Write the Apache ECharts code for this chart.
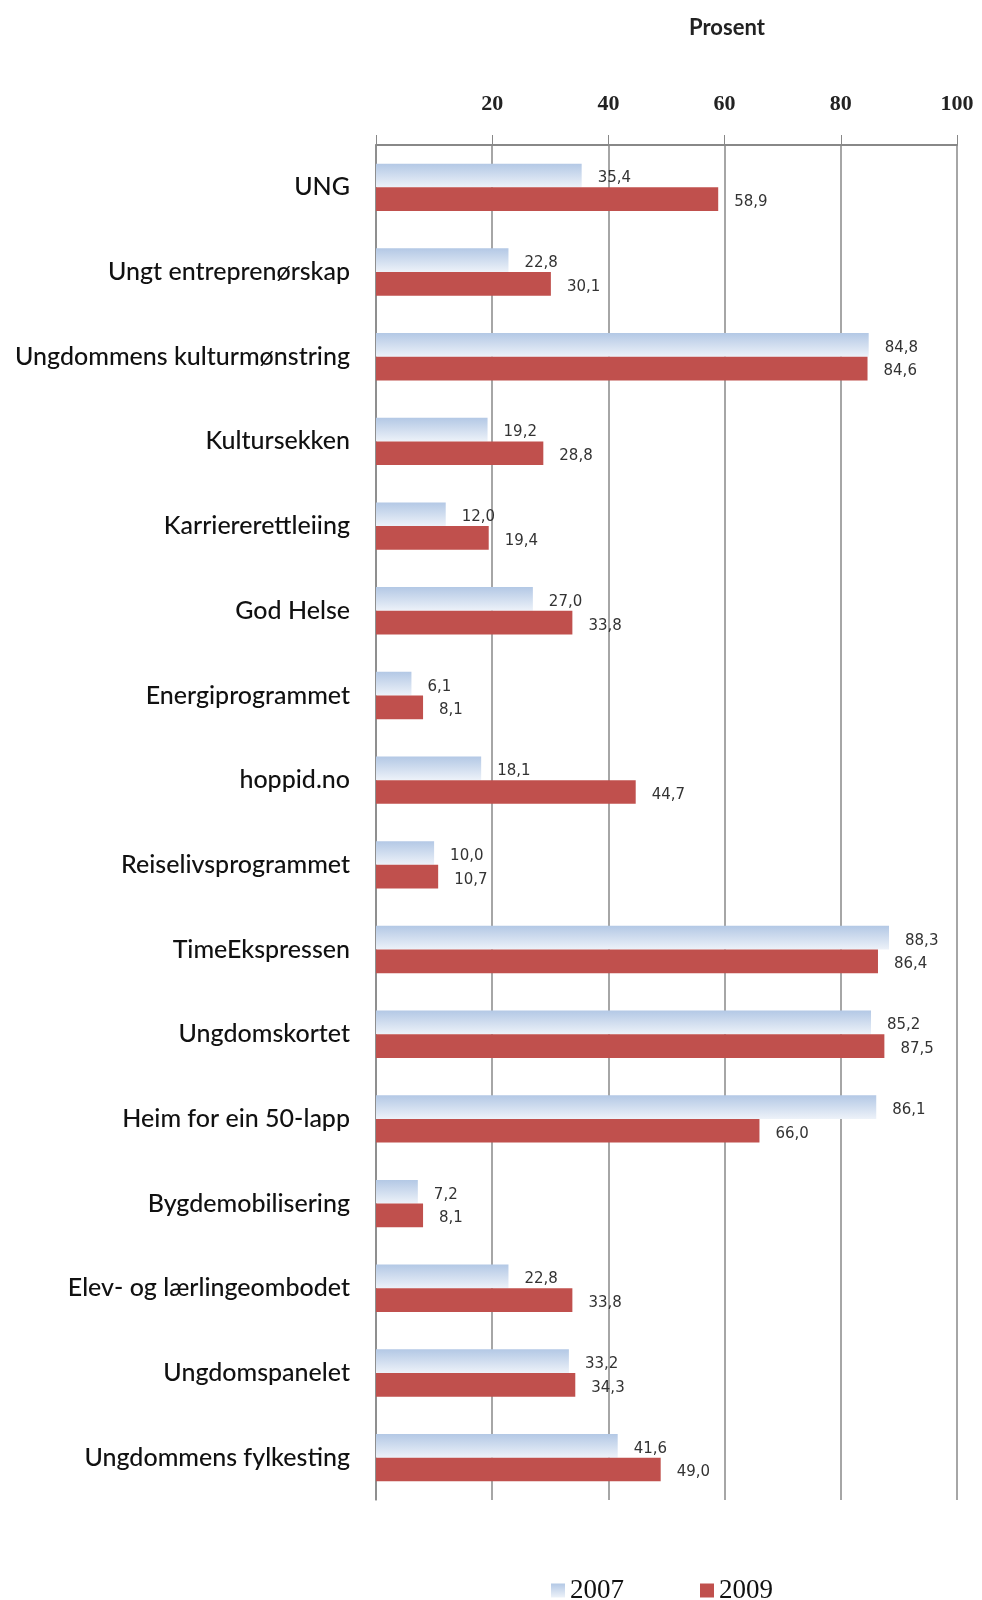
<!DOCTYPE html>
<html>
<head>
<meta charset="utf-8">
<script src="https://cdn.jsdelivr.net/npm/echarts@6/dist/echarts.min.js"></script>
<style>
  html, body { margin: 0; padding: 0; background: #fff; }
  #chart { width: 982px; height: 1600px; }
</style>
</head>
<body>
<div id="chart"></div>
<script>
var chart = echarts.init(document.getElementById('chart'));

// kategoriar og verdiar (prosent)
var categories = ['UNG', 'Ungt entreprenørskap', 'Ungdommens kulturmønstring', 'Kultursekken',
    'Karriererettleiing', 'God Helse', 'Energiprogrammet', 'hoppid.no', 'Reiselivsprogrammet',
    'TimeEkspressen', 'Ungdomskortet', 'Heim for ein 50-lapp', 'Bygdemobilisering',
    'Elev- og lærlingeombodet', 'Ungdomspanelet', 'Ungdommens fylkesting'];
var values2007 = [35.4, 22.8, 84.8, 19.2, 12.0, 27.0, 6.1, 18.1, 10.0, 88.3, 85.2, 86.1, 7.2, 22.8, 33.2, 41.6];
var values2009 = [58.9, 30.1, 84.6, 28.8, 19.4, 33.8, 8.1, 44.7, 10.7, 86.4, 87.5, 66.0, 8.1, 33.8, 34.3, 49.0];
var tickLabels = ['', '20', '40', '60', '80', '100'];

function fmt(p) {
    return p.value.toFixed(1).replace('.', ',');
}

var valueLabel = {
    show: true,
    position: 'right',
    distance: 16,
    offset: [0, 3],
    color: '#333',
    fontFamily: 'DejaVu Sans',
    fontSize: 15,
    formatter: fmt
};

var option = {
    animation: false,
    title: {
        text: 'Prosent',
        left: 684,
        top: 12,
        textStyle: { fontFamily: 'Lato', fontWeight: 'bold', fontSize: 22, color: '#222' }
    },
    legend: {
        data: ['2007', '2009'],
        left: 546,
        top: 1572,
        itemWidth: 14,
        itemHeight: 14,
        itemGap: 76,
        icon: 'rect',
        textStyle: { fontFamily: 'Liberation Serif', fontSize: 27, color: '#111' }
    },
    grid: { left: 376, right: 25, top: 145, bottom: 100 },
    xAxis: {
        type: 'value',
        position: 'top',
        min: 0,
        max: 100,
        interval: 20,
        axisLine: { show: true, lineStyle: { color: '#888', width: 2 } },
        axisTick: { show: true, length: 10, lineStyle: { color: '#888' } },
        splitLine: { show: true, lineStyle: { color: '#888', width: 1.5 } },
        axisLabel: {
            margin: 30,
            fontFamily: 'Liberation Serif',
            fontWeight: 'bold',
            fontSize: 22,
            color: '#222',
            formatter: function (v) { return tickLabels[v / 20]; }
        }
    },
    yAxis: {
        type: 'category',
        inverse: true,
        data: categories,
        axisLine: { show: true, lineStyle: { color: '#888', width: 1.5 } },
        axisTick: { show: false },
        axisLabel: {
            margin: 26,
            padding: [6, 0, 0, 0],
            fontFamily: 'Lato',
            fontWeight: 500,
            fontSize: 25,
            color: '#111'
        }
    },
    series: [
        {
            name: '2007',
            type: 'bar',
            data: values2007,
            barCategoryGap: '44%',
            barGap: '0%',
            itemStyle: {
                color: new echarts.graphic.LinearGradient(0, 0, 0, 1, [
                    { offset: 0, color: '#b3c8e5' },
                    { offset: 1, color: '#edf2f9' }
                ])
            },
            label: valueLabel
        },
        {
            name: '2009',
            type: 'bar',
            data: values2009,
            barCategoryGap: '44%',
            barGap: '0%',
            itemStyle: { color: '#c0504d' },
            label: valueLabel
        }
    ]
};

chart.setOption(option);
</script>
</body>
</html>
